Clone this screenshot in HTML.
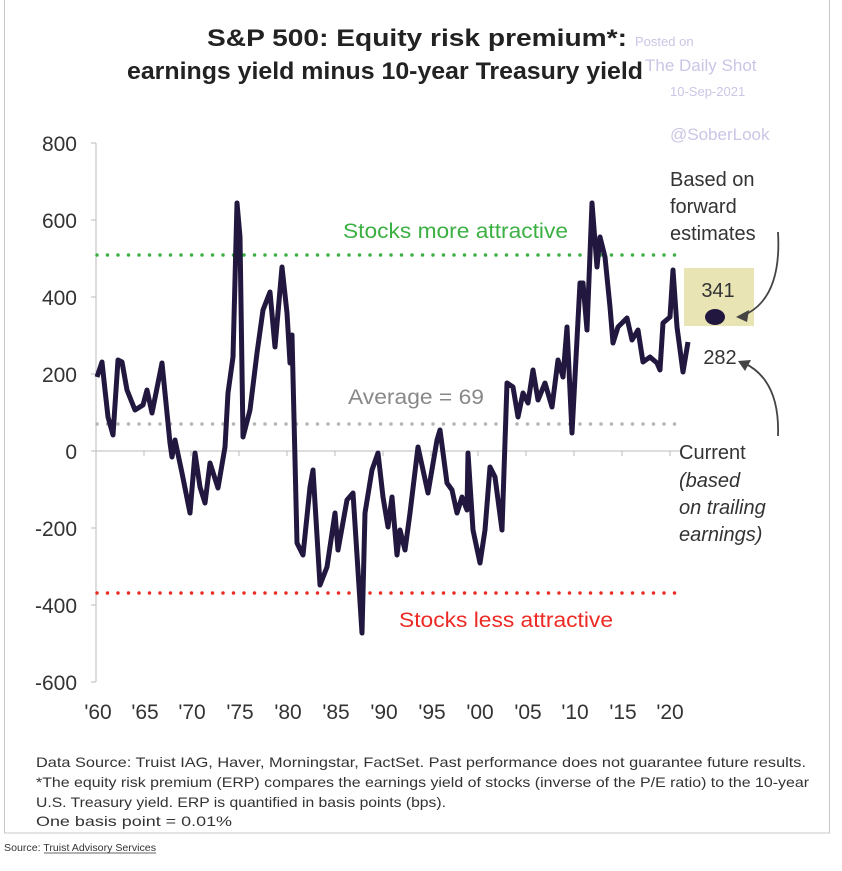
<!DOCTYPE html>
<html><head><meta charset="utf-8"><style>
html,body{margin:0;padding:0;background:#fff;width:842px;height:871px;overflow:hidden}
svg{display:block}
text{font-family:"Liberation Sans",sans-serif}
</style></head><body>
<svg width="842" height="871" viewBox="0 0 842 871" xmlns="http://www.w3.org/2000/svg">
<rect x="4.5" y="-1" width="825" height="834" fill="#fff" stroke="#c8c8c8" stroke-width="1"/>
<text x="207" y="46" font-size="24" font-weight="bold" fill="#222" textLength="420" lengthAdjust="spacingAndGlyphs">S&amp;P 500: Equity risk premium*:</text>
<text x="127" y="79" font-size="24" font-weight="bold" fill="#222" textLength="516" lengthAdjust="spacingAndGlyphs">earnings yield minus 10-year Treasury yield</text>
<text x="635" y="46" font-size="13" fill="#c9c6e6">Posted on</text>
<text x="645" y="71" font-size="17" fill="#c9c6e6">The Daily Shot</text>
<text x="670" y="96" font-size="13" fill="#c9c6e6">10-Sep-2021</text>
<text x="670" y="140" font-size="17" fill="#c9c6e6">@SoberLook</text>
<line x1="96" y1="143" x2="96" y2="682" stroke="#bbb"/>
<g stroke="#bbb">
<line x1="91" y1="143" x2="96" y2="143"/><line x1="91" y1="220" x2="96" y2="220"/><line x1="91" y1="297" x2="96" y2="297"/><line x1="91" y1="374" x2="96" y2="374"/><line x1="91" y1="451" x2="96" y2="451"/><line x1="91" y1="528" x2="96" y2="528"/><line x1="91" y1="605" x2="96" y2="605"/><line x1="91" y1="682" x2="96" y2="682"/>
<line x1="96" y1="451" x2="680" y2="451"/>
<line x1="144" y1="451" x2="144" y2="456"/><line x1="191" y1="451" x2="191" y2="456"/><line x1="239" y1="451" x2="239" y2="456"/><line x1="287" y1="451" x2="287" y2="456"/><line x1="335" y1="451" x2="335" y2="456"/><line x1="383" y1="451" x2="383" y2="456"/><line x1="431" y1="451" x2="431" y2="456"/><line x1="478" y1="451" x2="478" y2="456"/><line x1="526" y1="451" x2="526" y2="456"/><line x1="574" y1="451" x2="574" y2="456"/><line x1="622" y1="451" x2="622" y2="456"/><line x1="670" y1="451" x2="670" y2="456"/>
</g>
<g font-size="21" fill="#333" text-anchor="end">
<text x="77" y="151">800</text><text x="77" y="228">600</text><text x="77" y="305">400</text><text x="77" y="382">200</text><text x="77" y="459">0</text><text x="77" y="536">-200</text><text x="77" y="613">-400</text><text x="77" y="690">-600</text>
</g>
<g font-size="21" fill="#333" text-anchor="middle">
<text x="98" y="719">'60</text><text x="145" y="719">'65</text><text x="192" y="719">'70</text><text x="240" y="719">'75</text><text x="288" y="719">'80</text><text x="336" y="719">'85</text><text x="384" y="719">'90</text><text x="432" y="719">'95</text><text x="480" y="719">'00</text><text x="528" y="719">'05</text><text x="575" y="719">'10</text><text x="623" y="719">'15</text><text x="670" y="719">'20</text>
</g>
<line x1="97" y1="255" x2="680" y2="255" stroke="#3cb043" stroke-width="3.5" stroke-dasharray="0 10.5" stroke-linecap="round"/>
<line x1="97" y1="424" x2="680" y2="424" stroke="#b4b4b4" stroke-width="3.5" stroke-dasharray="0 10.5" stroke-linecap="round"/>
<line x1="97" y1="593" x2="680" y2="593" stroke="#ee2a24" stroke-width="3.5" stroke-dasharray="0 10.5" stroke-linecap="round"/>
<text x="343" y="238" font-size="21" fill="#3cb043" textLength="225" lengthAdjust="spacingAndGlyphs">Stocks more attractive</text>
<text x="348" y="404" font-size="21" fill="#888" textLength="136" lengthAdjust="spacingAndGlyphs">Average = 69</text>
<text x="399" y="627" font-size="21" fill="#ee2a24" textLength="214" lengthAdjust="spacingAndGlyphs">Stocks less attractive</text>
<polyline fill="none" stroke="#22183f" stroke-width="5" stroke-linejoin="round" points="97,377 102,362 105,390 108,417 113,435 118,360 122,362 127,390 135,410 143,405 147,390 152,413 162,363 170,443 172,457 175,440 182,473 190,513 195,453 200,487 205,503 210,463 218,488 225,447 228,393 233,357 237,203 240,237 243,437 250,410 257,353 263,310 270,292 275,347 282,267 287,313 290,363 292,335 297,543 303,555 310,487 313,470 320,585 327,567 335,513 338,550 347,500 353,493 362,633 365,513 372,470 378,453 383,497 388,527 392,497 397,555 400,530 405,550 410,513 418,447 428,493 437,440 440,430 447,483 452,490 457,513 462,497 467,510 468,453 473,530 480,563 485,530 490,467 495,477 502,530 507,383 513,387 518,417 523,393 528,403 533,370 538,400 545,383 552,407 558,360 563,377 567,327 572,433 580,283 583,283 587,330 592,203 597,267 600,237 605,257 610,307 613,343 618,327 627,318 632,340 638,330 643,362 650,357 657,363 660,370 663,323 670,317 673,270 677,327 683,372 688,342"/>
<rect x="684" y="268" width="70" height="58" fill="#e8e4b4"/>
<text x="718" y="297" font-size="20" fill="#333" text-anchor="middle">341</text>
<ellipse cx="715" cy="317" rx="10" ry="8" fill="#22183f"/>
<text x="720" y="364" font-size="20" fill="#333" text-anchor="middle">282</text>
<g font-size="20" fill="#333">
<text x="670" y="186">Based on</text><text x="670" y="213">forward</text><text x="670" y="240">estimates</text>
<text x="679" y="459">Current</text>
<g font-style="italic"><text x="679" y="487">(based</text><text x="679" y="514">on trailing</text><text x="679" y="541">earnings)</text></g>
</g>
<path d="M778 232 Q782 300 742 316" fill="none" stroke="#444" stroke-width="1.8"/>
<polygon points="736,317 749,310 747,322" fill="#444"/>
<path d="M778 436 Q780 380 744 363" fill="none" stroke="#444" stroke-width="1.8"/>
<polygon points="738,361 751,360 745,371" fill="#444"/>
<g font-size="14" fill="#333">
<text x="36" y="767" textLength="770" lengthAdjust="spacingAndGlyphs">Data Source: Truist IAG, Haver, Morningstar, FactSet. Past performance does not guarantee future results.</text>
<text x="36" y="787" textLength="773" lengthAdjust="spacingAndGlyphs">*The equity risk premium (ERP) compares the earnings yield of stocks (inverse of the P/E ratio) to the 10-year</text>
<text x="36" y="807" textLength="410" lengthAdjust="spacingAndGlyphs">U.S. Treasury yield. ERP is quantified in basis points (bps).</text>
<text x="36" y="826" textLength="196" lengthAdjust="spacingAndGlyphs">One basis point = 0.01%</text>
</g>
<text x="4" y="851" font-size="10" fill="#333" textLength="152" lengthAdjust="spacingAndGlyphs">Source: Truist Advisory Services</text>
<line x1="44" y1="853" x2="156" y2="853" stroke="#333" stroke-width="0.8"/>
</svg>
</body></html>
